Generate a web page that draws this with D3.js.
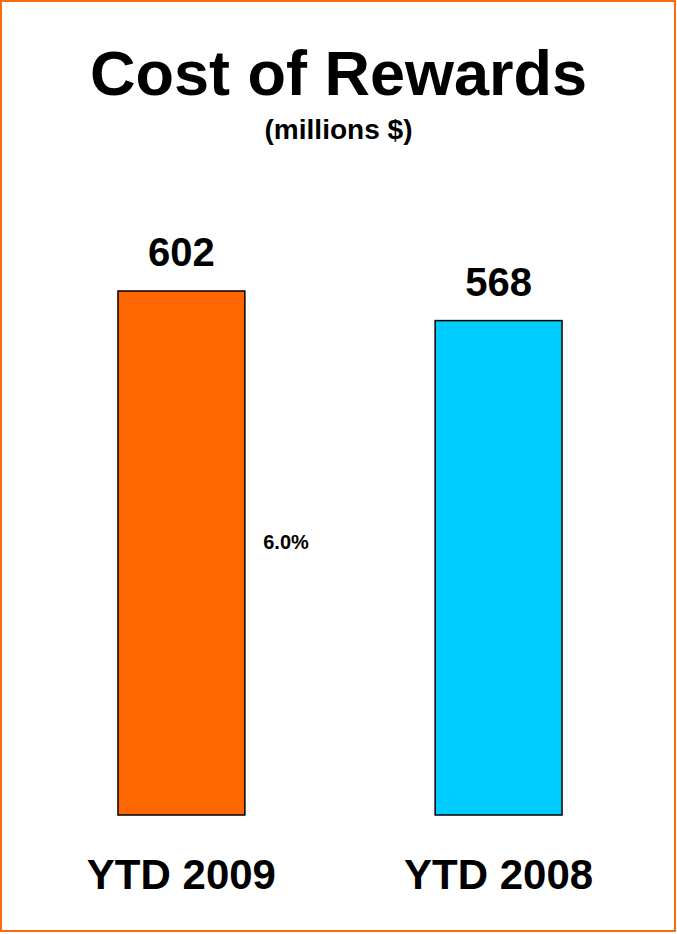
<!DOCTYPE html>
<html>
<head>
<meta charset="utf-8">
<script src="https://cdn.jsdelivr.net/npm/d3@7"></script>
<style>
  html, body { margin: 0; padding: 0; background: #fff; }
  svg { display: block; }
</style>
</head>
<body>
<div id="container"></div>
<script>
// data
const categories = ["YTD 2009", "YTD 2008"];
const values = [602, 568];
const colors = ["#FF6600", "#00CCFF"];
const changeLabel = "6.0%";

const width = 677, height = 934;
const font = "'Liberation Sans', Arial, sans-serif";

const svg = d3.select("#container")
  .append("svg")
  .attr("width", width)
  .attr("height", height)
  .style("font-family", font);

// frame
svg.append("rect")
  .attr("x", 1)
  .attr("y", 1)
  .attr("width", 674)
  .attr("height", 930)
  .attr("fill", "#fff")
  .attr("stroke", "#FF6A10")
  .attr("stroke-width", 2);

// title
svg.append("text")
  .attr("x", width / 2)
  .attr("y", 95)
  .attr("text-anchor", "middle")
  .style("font-size", "63px")
  .style("font-weight", "bold")
  .text("Cost of Rewards");

svg.append("text")
  .attr("x", width / 2)
  .attr("y", 139)
  .attr("text-anchor", "middle")
  .style("font-size", "27px")
  .style("font-weight", "bold")
  .attr("textLength", 148)
  .attr("lengthAdjust", "spacingAndGlyphs")
  .text("(millions $)");

const x = d3.scaleBand()
  .domain(categories)
  .range([118, 562])
  .paddingInner(0.6)
  .paddingOuter(0);

const y = d3.scaleLinear()
  .domain([0, d3.max(values)])
  .range([815, 291]);

const data = categories.map((c, i) => ({ cat: c, value: values[i], color: colors[i] }));

// bars
svg.selectAll("rect.bar")
  .data(data)
  .enter()
  .append("rect")
  .attr("class", "bar")
  .attr("x", d => x(d.cat))
  .attr("y", d => y(d.value))
  .attr("width", x.bandwidth())
  .attr("height", d => y(0) - y(d.value))
  .attr("fill", d => d.color)
  .attr("stroke", "#000")
  .attr("stroke-width", 1.5);

// value labels
svg.selectAll("text.val")
  .data(data)
  .enter()
  .append("text")
  .attr("class", "val")
  .attr("x", d => x(d.cat) + x.bandwidth() / 2)
  .attr("y", d => y(d.value) - 25)
  .attr("text-anchor", "middle")
  .style("font-size", "40px")
  .style("font-weight", "bold")
  .text(d => d.value);

// category labels
svg.selectAll("text.cat")
  .data(data)
  .enter()
  .append("text")
  .attr("class", "cat")
  .attr("x", d => x(d.cat) + x.bandwidth() / 2)
  .attr("y", 889)
  .attr("text-anchor", "middle")
  .style("font-size", "42px")
  .style("font-weight", "bold")
  .text(d => d.cat);

// change label between bars
svg.append("text")
  .attr("x", 286)
  .attr("y", 549)
  .attr("text-anchor", "middle")
  .style("font-size", "20px")
  .style("font-weight", "bold")
  .text(changeLabel);
</script>
</body>
</html>
